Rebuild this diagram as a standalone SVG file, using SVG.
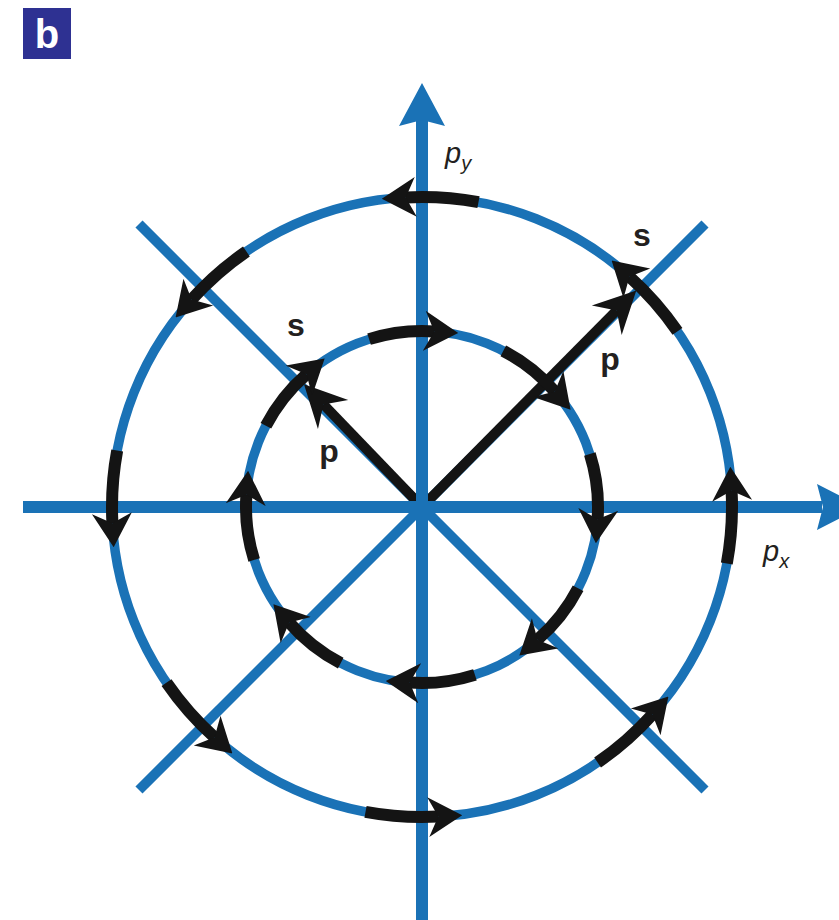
<svg xmlns="http://www.w3.org/2000/svg" width="839" height="920" viewBox="0 0 839 920">
<style>
.blue{fill:none;stroke:#1a72b6;}
.circ{stroke-width:9.5;}
.diag{stroke-width:10;}
.axis{stroke-width:12;}
.arc{fill:none;stroke:#141414;stroke-width:12;marker-end:url(#ah);}
.pv{fill:none;stroke:#141414;stroke-width:10;marker-end:url(#ahp);}
.lbl{font-family:"Liberation Sans",Arial,sans-serif;font-weight:bold;font-size:32px;fill:#231f20;}
.ax{font-family:"Liberation Sans",Arial,sans-serif;font-style:italic;fill:#231f20;}
</style>
<defs>
<marker id="ah" viewBox="0 0 34 42" refX="10" refY="21" markerWidth="34" markerHeight="42" orient="auto" markerUnits="userSpaceOnUse"><path d="M34,21 L0,1 L10,21 L0,41 Z" fill="#141414"/></marker>
<marker id="ahp" viewBox="0 0 42 44" refX="14" refY="22" markerWidth="42" markerHeight="44" orient="auto" markerUnits="userSpaceOnUse"><path d="M42,22 L0,1 L14,22 L0,43 Z" fill="#141414"/></marker>
</defs>
<rect width="839" height="920" fill="#ffffff"/>
<g id="circles">
<circle class="blue circ" cx="422" cy="507" r="310"/>
<circle class="blue circ" cx="422" cy="507" r="176"/>
</g>
<g id="diagonals">
<line class="blue diag" x1="139" y1="224" x2="705" y2="790"/>
<line class="blue diag" x1="139" y1="790" x2="705" y2="224"/>
</g>
<g id="p-vectors">
<line class="pv" x1="422" y1="507" x2="616.6" y2="310.4"/>
<line class="pv" x1="422" y1="507" x2="323.4" y2="404.4"/>
</g>
<g id="axes">
<line class="blue axis" x1="23" y1="507" x2="822" y2="507"/>
<path d="M862,507 L817,484 L823,507 L817,530 Z" fill="#1a72b6"/>
<line class="blue axis" x1="422" y1="925" x2="422" y2="120"/>
<path d="M422,83 L399,126 L422,120 L445,126 Z" fill="#1a72b6"/>
</g>
<g id="outer-arrows">
<path class="arc" d="M726.81,563.49 A310,310 0 0 0 731.58,490.77"/>
<path class="arc" d="M677.48,331.41 A310,310 0 0 0 629.43,276.63"/>
<path class="arc" d="M478.49,202.19 A310,310 0 0 0 405.77,197.42"/>
<path class="arc" d="M246.41,251.52 A310,310 0 0 0 191.63,299.57"/>
<path class="arc" d="M117.19,450.51 A310,310 0 0 0 112.42,523.23"/>
<path class="arc" d="M166.52,682.59 A310,310 0 0 0 214.57,737.37"/>
<path class="arc" d="M365.51,811.81 A310,310 0 0 0 438.23,816.58"/>
<path class="arc" d="M597.59,762.48 A310,310 0 0 0 652.37,714.43"/>
</g>
<g id="inner-arrows">
<path class="arc" d="M369.07,339.15 A176,176 0 0 1 434.28,331.43"/>
<path class="arc" d="M503.27,350.89 A176,176 0 0 1 554.83,391.53"/>
<path class="arc" d="M589.85,454.07 A176,176 0 0 1 597.57,519.28"/>
<path class="arc" d="M578.11,588.27 A176,176 0 0 1 537.47,639.83"/>
<path class="arc" d="M474.93,674.85 A176,176 0 0 1 409.72,682.57"/>
<path class="arc" d="M340.73,663.11 A176,176 0 0 1 289.17,622.47"/>
<path class="arc" d="M254.15,559.93 A176,176 0 0 1 246.43,494.72"/>
<path class="arc" d="M265.89,425.73 A176,176 0 0 1 306.53,374.17"/>
</g>
<g id="labels">
<text class="lbl" x="296" y="336" text-anchor="middle">s</text>
<text class="lbl" x="329" y="462" text-anchor="middle">p</text>
<text class="lbl" x="642" y="246" text-anchor="middle">s</text>
<text class="lbl" x="610" y="370" text-anchor="middle">p</text>
<text class="ax" x="445" y="163" font-size="29">p<tspan font-size="20" dy="7">y</tspan></text>
<text class="ax" x="763" y="561" font-size="29">p<tspan font-size="20" dy="7">x</tspan></text>
</g>
<g id="panel-label">
<rect x="23" y="8" width="48" height="51" fill="#2e3192"/>
<text x="47" y="48" text-anchor="middle" font-family="Liberation Sans,Arial,sans-serif" font-weight="bold" font-size="40" fill="#ffffff">b</text>
</g>
</svg>
